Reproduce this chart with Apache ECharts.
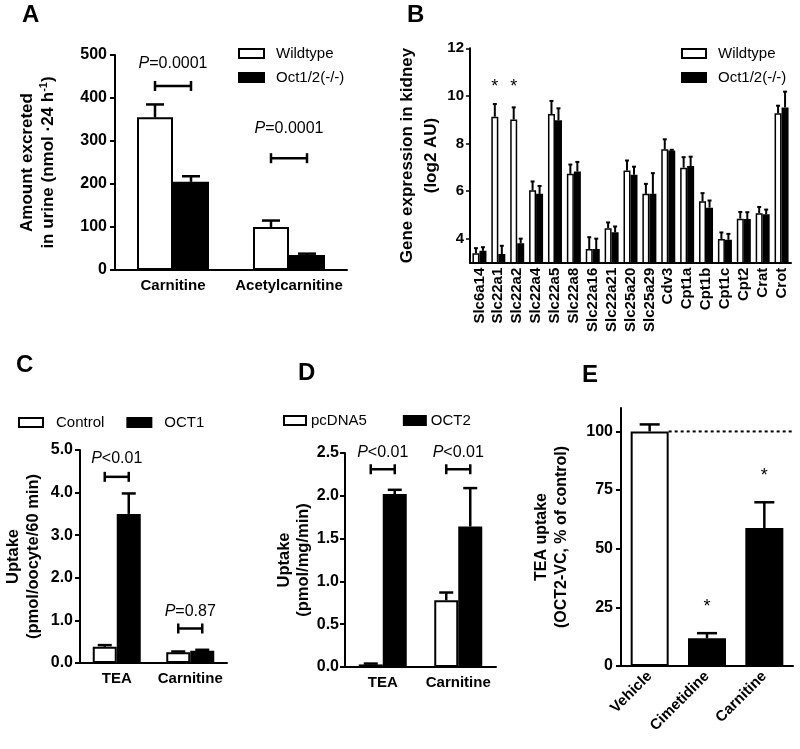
<!DOCTYPE html>
<html><head><meta charset="utf-8">
<script src="https://cdn.jsdelivr.net/npm/echarts@6/dist/echarts.min.js"></script>
<style>html,body{margin:0;padding:0;background:#fff}#c{width:800px;height:749px}</style>
</head><body><div id="c"></div>
<script>
// ---------- Panel A: urinary excretion ----------
const aCategories = ['Carnitine', 'Acetylcarnitine'];
const aWildtype = [355, 100];
const aWildtypeErrTop = [385, 115];
const aKnockout = [205, 35];
const aKnockoutErrTop = [218, 38];
const aBracketY = [428, 260];
const aPTextY = [481, 330];
const aPText = ['=0.0001', '=0.0001'];

// ---------- Panel B: gene expression ----------
const bGenes = ['Slc6a14','Slc22a1','Slc22a2','Slc22a4','Slc22a5','Slc22a8','Slc22a16','Slc22a21','Slc25a20','Slc25a29','Cdv3','Cpt1a','Cpt1b','Cpt1c','Cpt2','Crat','Crot'];
const bWildtype =       [3.40, 9.13, 9.01, 6.04, 9.24, 6.73, 3.57, 4.45, 6.87, 5.89, 7.76, 6.99, 5.58, 4.00, 4.85, 5.08, 9.27];
const bWildtypeErrTop = [3.61, 9.66, 9.52, 6.41, 9.79, 7.12, 4.07, 4.69, 7.29, 6.31, 8.18, 7.43, 5.92, 4.27, 5.13, 5.34, 9.59];
const bKnockout =       [3.50, 3.36, 3.82, 5.89, 8.98, 6.83, 3.57, 4.28, 6.69, 5.89, 7.71, 7.06, 5.31, 3.96, 4.83, 5.03, 9.52];
const bKnockoutErrTop = [3.65, 3.71, 4.01, 6.22, 9.48, 7.23, 4.01, 4.52, 7.03, 6.76, 7.74, 7.45, 5.61, 4.21, 5.12, 5.23, 10.18];
const bStarIndex = [1, 2];
const bStarY = [10.38, 10.38];
const bTicks = [4, 6, 8, 10, 12];

// ---------- Panel C: OCT1 oocyte uptake ----------
const cCategories = ['TEA', 'Carnitine'];
const cControl = [0.38, 0.25];
const cControlErrTop = [0.42, 0.27];
const cOct1 = [3.50, 0.29];
const cOct1ErrTop = [3.98, 0.31];
const cBracketY = [4.37, 0.81];
const cPTextY = [4.81, 1.20];
const cPText = ['<0.01', '=0.87'];

// ---------- Panel D: OCT2 cell uptake ----------
const dCategories = ['TEA', 'Carnitine'];
const dPcdna5 = [0.03, 0.78];
const dPcdna5ErrTop = [0.04, 0.87];
const dOct2 = [2.02, 1.64];
const dOct2ErrTop = [2.07, 2.09];
const dBracketY = [2.31, 2.31];
const dPTextY = [2.50, 2.50];
const dPText = ['<0.01', '<0.01'];

// ---------- Panel E: TEA uptake inhibition ----------
const eCategories = ['Vehicle', 'Cimetidine', 'Carnitine'];
const eValues = [100, 11.8, 58.8];
const eErrTop = [103, 14.0, 69.8];
const eStarIndex = [1, 2];
const eStarY = [25.2, 80.8];
const eTicks = [0, 25, 50, 75, 100];
const eReference = 100;

// ---------- helpers ----------
const FONT = 'Liberation Sans, Arial, sans-serif';
const WHITE = {color: '#fff', borderColor: '#000', borderWidth: 2};
const BLACK = {color: '#000', borderColor: '#000', borderWidth: 2};

function errSeries(gi, vals, tops, offset, capW, lw) {
  return {
    type: 'custom', xAxisIndex: gi, yAxisIndex: gi, z: 4, silent: true,
    data: vals.map((v, i) => [i, v, tops[i]]),
    renderItem(params, api) {
      const c0 = api.coord([api.value(0), api.value(1)]);
      const c1 = api.coord([api.value(0), api.value(2)]);
      const x = c0[0] + offset;
      return {type: 'group', children: [
        {type: 'line', shape: {x1: x, y1: c0[1], x2: x, y2: c1[1]}, style: {stroke: '#000', lineWidth: lw}},
        {type: 'line', shape: {x1: x - capW / 2, y1: c1[1], x2: x + capW / 2, y2: c1[1]}, style: {stroke: '#000', lineWidth: lw}}
      ]};
    }
  };
}

function bracketSeries(gi, bracketY, textY, labels, half, fontSize) {
  return {
    type: 'custom', xAxisIndex: gi, yAxisIndex: gi, z: 4, silent: true,
    data: bracketY.map((y, i) => [i, y, textY[i]]),
    renderItem(params, api) {
      const b = api.coord([api.value(0), api.value(1)]);
      const t = api.coord([api.value(0), api.value(2)]);
      const ls = {stroke: '#000', lineWidth: 2.5};
      return {type: 'group', children: [
        {type: 'line', shape: {x1: b[0] - half, y1: b[1], x2: b[0] + half, y2: b[1]}, style: ls},
        {type: 'line', shape: {x1: b[0] - half, y1: b[1] - 5, x2: b[0] - half, y2: b[1] + 5}, style: ls},
        {type: 'line', shape: {x1: b[0] + half, y1: b[1] - 5, x2: b[0] + half, y2: b[1] + 5}, style: ls},
        {type: 'text', x: t[0], y: t[1], style: {
          text: '{i|P}' + labels[params.dataIndex], align: 'center', verticalAlign: 'middle',
          fontSize: fontSize, fontFamily: FONT, fill: '#000',
          rich: {i: {fontStyle: 'italic', fontSize: fontSize, fontFamily: FONT, fill: '#000'}}
        }}
      ]};
    }
  };
}

function starSeries(gi, idx, ys, offset) {
  return {
    type: 'custom', xAxisIndex: gi, yAxisIndex: gi, z: 4, silent: true,
    data: idx.map((c, i) => [c, ys[i]]),
    renderItem(params, api) {
      const p = api.coord([api.value(0), api.value(1)]);
      return {type: 'text', x: p[0] + offset, y: p[1], style: {
        text: '*', align: 'center', verticalAlign: 'middle', fontSize: 18, fontFamily: FONT, fill: '#000'}};
    }
  };
}

function xAxisBase(gi, data, fontSize, extra) {
  return Object.assign({
    type: 'category', gridIndex: gi, data: data,
    axisLine: {onZero: false, lineStyle: {color: '#000', width: 2}},
    axisTick: {alignWithLabel: true, length: 5, lineStyle: {color: '#000', width: 2}},
    axisLabel: {color: '#000', fontWeight: 'bold', fontFamily: FONT, fontSize: fontSize, margin: 8, interval: 0},
    splitLine: {show: false}
  }, extra || {});
}

function yAxisBase(gi, min, max, interval, name, nameGap, fontSize, lineHeight, labelExtra, extra) {
  return Object.assign({
    type: 'value', gridIndex: gi, min: min, max: max, interval: interval,
    name: name, nameLocation: 'middle', nameRotate: 90, nameGap: nameGap,
    nameTextStyle: {color: '#000', fontWeight: 'bold', fontFamily: FONT, fontSize: fontSize, lineHeight: lineHeight,
      rich: {sup: {fontSize: 11, fontWeight: 'bold', fontFamily: FONT, verticalAlign: 'top', lineHeight: lineHeight}}},
    axisLine: {show: true, lineStyle: {color: '#000', width: 2}},
    axisTick: {show: true, length: 5, lineStyle: {color: '#000', width: 2}},
    axisLabel: Object.assign({color: '#000', fontWeight: 'bold', fontFamily: FONT, fontSize: 16, margin: 8}, labelExtra || {}),
    splitLine: {show: false}
  }, extra || {});
}

function legend(left, top, orient, gap, names, fills, textPad, itemW) {
  return {
    left: left, top: top, orient: orient, itemGap: gap, itemWidth: itemW, itemHeight: 9, icon: 'rect',
    padding: 0, selectedMode: false,
    textStyle: {color: '#000', fontFamily: FONT, fontSize: 15, padding: [0, 0, 0, textPad]},
    data: names.map((n, i) => ({name: n, itemStyle: fills[i] ? WHITE : BLACK}))
  };
}

const grids = [
  {left: 115, top: 55, width: 232, height: 215},
  {left: 470, top: 48.3, width: 321, height: 214.4},
  {left: 80, top: 450, width: 147, height: 213},
  {left: 345, top: 453, width: 151, height: 214},
  {left: 621, top: 408, width: 172, height: 258}
].map(g => Object.assign({outerBoundsMode: 'none', containLabel: false}, g));

const option = {
  animation: false,
  backgroundColor: '#fff',
  textStyle: {fontFamily: FONT},
  grid: grids,
  legend: [
    legend(238, 46, 'vertical', 9, ['Wildtype', 'Oct1/2(-/-)'], [true, false], 7, 25),
    legend(681, 46, 'vertical', 9, ['Wildtype', 'Oct1/2(-/-)'], [true, false], 7, 24),
    legend(18, 415, 'horizontal', 22, ['Control', 'OCT1'], [true, false], 8, 24),
    legend(283, 413, 'horizontal', 36, ['pcDNA5', 'OCT2'], [true, false], 0, 22)
  ],
  xAxis: [
    xAxisBase(0, aCategories, 15),
    xAxisBase(1, bGenes, 15, {axisLabel: {color: '#000', fontWeight: 'bold', fontFamily: FONT, fontSize: 15, margin: 5, rotate: 90, interval: 0}, axisTick: {alignWithLabel: true, length: 4, lineStyle: {color: '#000', width: 1.5}}}),
    xAxisBase(2, cCategories, 15),
    xAxisBase(3, dCategories, 15),
    xAxisBase(4, eCategories, 15, {axisLabel: {color: '#000', fontWeight: 'bold', fontFamily: FONT, fontSize: 15, margin: 8, rotate: 45, interval: 0}})
  ],
  yAxis: [
    yAxisBase(0, 0, 500, 100, 'Amount excreted\nin urine (nmol ·24 h{sup|-1})', 56, 17, 21),
    yAxisBase(1, 3, 12, 1, 'Gene expression in kidney\n(log2 AU)', 25, 17, 24,
      {fontSize: 15, margin: 6, customValues: bTicks},
      {axisTick: {show: true, length: 4, customValues: bTicks, lineStyle: {color: '#000', width: 1.5}}}),
    yAxisBase(2, 0, 5, 1, 'Uptake\n(pmol/oocyte/60 min)', 37, 16.5, 20, {formatter: v => v.toFixed(1), margin: 7}),
    yAxisBase(3, 0, 2.5, 0.5, 'Uptake\n(pmol/mg/min)', 28, 16.5, 19, {formatter: v => v.toFixed(1), margin: 6}),
    yAxisBase(4, 0, 110, 25, 'TEA uptake\n(OCT2-VC, % of control)', 49, 16, 20,
      {customValues: eTicks},
      {axisTick: {show: true, length: 5, customValues: eTicks, lineStyle: {color: '#000', width: 2}}})
  ],
  series: [
    // Panel A
    {type: 'bar', name: 'Wildtype', xAxisIndex: 0, yAxisIndex: 0, data: aWildtype, barWidth: 36, barGap: '0%', itemStyle: WHITE},
    {type: 'bar', name: 'Oct1/2(-/-)', xAxisIndex: 0, yAxisIndex: 0, data: aKnockout, barWidth: 36, barGap: '0%', itemStyle: BLACK},
    errSeries(0, aWildtype, aWildtypeErrTop, -18, 18, 2.5),
    errSeries(0, aKnockout, aKnockoutErrTop, 18, 18, 2.5),
    bracketSeries(0, aBracketY, aPTextY, aPText, 18, 16),
    // Panel B
    {type: 'bar', name: 'Wildtype', xAxisIndex: 1, yAxisIndex: 1, data: bWildtype, barWidth: 7, barGap: '0%', itemStyle: Object.assign({}, WHITE, {borderWidth: 1.5})},
    {type: 'bar', name: 'Oct1/2(-/-)', xAxisIndex: 1, yAxisIndex: 1, data: bKnockout, barWidth: 7, barGap: '0%', itemStyle: Object.assign({}, BLACK, {borderWidth: 1.5})},
    errSeries(1, bWildtype, bWildtypeErrTop, -3.5, 4, 2),
    errSeries(1, bKnockout, bKnockoutErrTop, 3.5, 4, 2),
    starSeries(1, bStarIndex, bStarY, -3.5),
    // Panel C
    {type: 'bar', name: 'Control', xAxisIndex: 2, yAxisIndex: 2, data: cControl, barWidth: 24, barGap: '0%', itemStyle: WHITE},
    {type: 'bar', name: 'OCT1', xAxisIndex: 2, yAxisIndex: 2, data: cOct1, barWidth: 24, barGap: '0%', itemStyle: BLACK},
    errSeries(2, cControl, cControlErrTop, -12, 14, 2.5),
    errSeries(2, cOct1, cOct1ErrTop, 12, 14, 2.5),
    bracketSeries(2, cBracketY, cPTextY, cPText, 12, 16),
    // Panel D
    {type: 'bar', name: 'pcDNA5', xAxisIndex: 3, yAxisIndex: 3, data: dPcdna5, barWidth: 24, barGap: '0%', itemStyle: WHITE},
    {type: 'bar', name: 'OCT2', xAxisIndex: 3, yAxisIndex: 3, data: dOct2, barWidth: 24, barGap: '0%', itemStyle: BLACK},
    errSeries(3, dPcdna5, dPcdna5ErrTop, -12, 14, 2.5),
    errSeries(3, dOct2, dOct2ErrTop, 12, 14, 2.5),
    bracketSeries(3, dBracketY, dPTextY, dPText, 12, 16),
    // Panel E
    {type: 'custom', xAxisIndex: 4, yAxisIndex: 4, z: 1, silent: true, data: [[0, eReference]],
      renderItem(params, api) {
        const p = api.coord([api.value(0), api.value(1)]);
        const cs = params.coordSys;
        return {type: 'line', shape: {x1: p[0] + 19, y1: p[1], x2: cs.x + cs.width, y2: p[1]},
          style: {stroke: '#000', lineWidth: 2, lineDash: [3, 3]}};
      }},
    {type: 'bar', name: 'Treatment', xAxisIndex: 4, yAxisIndex: 4, barWidth: 38, z: 2,
      data: eValues.map((v, i) => ({value: v, itemStyle: i === 0 ? WHITE : BLACK}))},
    errSeries(4, eValues, eErrTop, 0, 20, 2.5),
    starSeries(4, eStarIndex, eStarY, 0)
  ],
  graphic: [
    {type: 'text', left: 22, top: 3, style: {text: 'A', fontSize: 24, fontWeight: 'bold', fontFamily: FONT, fill: '#000'}},
    {type: 'text', left: 407, top: 3, style: {text: 'B', fontSize: 24, fontWeight: 'bold', fontFamily: FONT, fill: '#000'}},
    {type: 'text', left: 16, top: 353, style: {text: 'C', fontSize: 24, fontWeight: 'bold', fontFamily: FONT, fill: '#000'}},
    {type: 'text', left: 298, top: 361, style: {text: 'D', fontSize: 24, fontWeight: 'bold', fontFamily: FONT, fill: '#000'}},
    {type: 'text', left: 582, top: 363, style: {text: 'E', fontSize: 24, fontWeight: 'bold', fontFamily: FONT, fill: '#000'}}
  ]
};

const chart = echarts.init(document.getElementById('c'), null, {renderer: 'canvas'});
chart.setOption(option);
</script>
</body></html>
